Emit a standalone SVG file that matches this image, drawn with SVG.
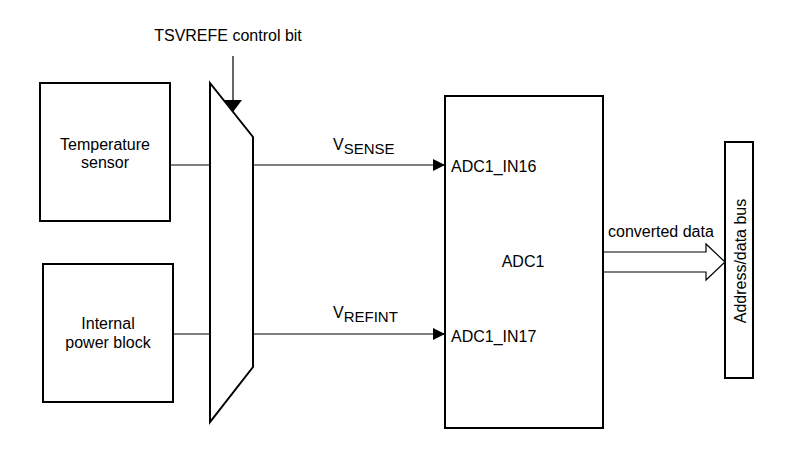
<svg xmlns="http://www.w3.org/2000/svg" width="805" height="464" viewBox="0 0 805 464">
<style>
text{font-family:"Liberation Sans",Arial,sans-serif;font-size:16px;fill:#000}
.box{fill:#fff;stroke:#000;stroke-width:2}
.wire{fill:none;stroke:#000;stroke-width:1.2}
.mid{text-anchor:middle}
</style>
<defs>
<marker id="ah" viewBox="0 0 12 12" refX="12" refY="6" markerWidth="12" markerHeight="12" markerUnits="userSpaceOnUse" orient="auto">
<path d="M0,0 L12,6 L0,12 Z" fill="#000"/>
</marker>
<marker id="ah2" viewBox="0 0 12 18" refX="12" refY="9" markerWidth="12" markerHeight="18" markerUnits="userSpaceOnUse" orient="auto">
<path d="M0,0 L12,9 L0,18 Z" fill="#000"/>
</marker>
</defs>
<rect width="805" height="464" fill="#fff"/>
<g id="connectors">
<line class="wire" x1="170" y1="165" x2="210" y2="165"/>
<line class="wire" x1="173" y1="334" x2="210" y2="334"/>
<line class="wire" x1="253" y1="165" x2="445" y2="165" marker-end="url(#ah)"/>
<line class="wire" x1="253" y1="334" x2="445" y2="334" marker-end="url(#ah)"/>
<line class="wire" x1="233" y1="56" x2="233" y2="112" marker-end="url(#ah2)"/>
<path class="wire" d="M603,252 H706 V244 L725,262 L706,280 V272 H603"/>
</g>
<g id="control-label"><text class="mid" x="228" y="41">TSVREFE control bit</text></g>
<g id="temp-sensor">
<rect class="box" x="40" y="83" width="130" height="138"/>
<text class="mid" x="105" y="150">Temperature</text>
<text class="mid" x="105" y="168">sensor</text>
</g>
<g id="power-block">
<rect class="box" x="43" y="264" width="130" height="138"/>
<text class="mid" x="108" y="329">Internal</text>
<text class="mid" x="108" y="348">power block</text>
</g>
<g id="mux">
<path class="box" d="M210,83 L253,137 V367 L210,422 Z"/>
</g>
<g id="vsense-label"><text x="333" y="150" font-size="17">V<tspan font-size="15" dy="4">SENSE</tspan></text></g>
<g id="vrefint-label"><text x="333" y="318" font-size="17">V<tspan font-size="15" dy="4">REFINT</tspan></text></g>
<g id="adc1">
<rect class="box" x="445" y="96" width="158" height="332"/>
<text x="451" y="172">ADC1_IN16</text>
<text class="mid" x="523" y="267">ADC1</text>
<text x="451" y="342">ADC1_IN17</text>
</g>
<g id="converted-label"><text x="608" y="237">converted data</text></g>
<g id="bus">
<rect class="box" x="725" y="142" width="28" height="236"/>
<text class="mid" transform="translate(746,261) rotate(-90)">Address/data bus</text>
</g>
</svg>
